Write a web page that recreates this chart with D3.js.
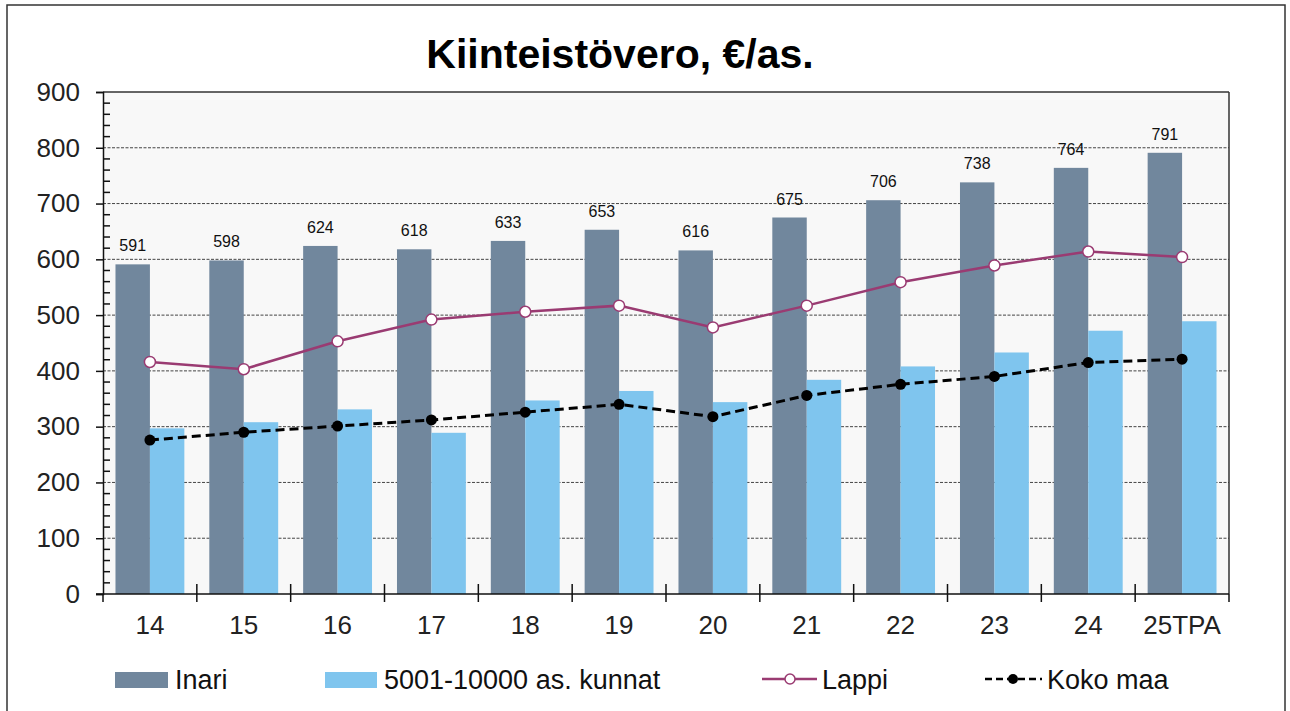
<!DOCTYPE html>
<html><head><meta charset="utf-8">
<script src="https://cdn.jsdelivr.net/npm/d3@7"></script>
<style>body{margin:0;background:#fff}svg{display:block;font-family:"Liberation Sans",Arial,sans-serif}</style>
</head><body>
<svg id="c" width="1290" height="711"></svg>
<script>
const categories = ["14","15","16","17","18","19","20","21","22","23","24","25TPA"];
const inari = [591,598,624,618,633,653,616,675,706,738,764,791];
const kunnat = [297,308,331,289,347,364,344,384,408,433,472,489];
const lappi = [416,403,453,492,506,517,478,517,559,589,614,604];
const kokoMaa = [276,290,301,312,326,340,318,356,376,390,415,421];
const yTicks = [0,100,200,300,400,500,600,700,800,900];
const seriesNames = ["Inari","5001-10000 as. kunnat","Lappi","Koko maa"];

const C_INARI = "#71879d", C_KUNNAT = "#7fc5ee", C_LAPPI = "#9a3b72", C_KOKO = "#000";
const svg = d3.select("#c");
const L = 103, R = 1229, T = 92, B = 594;

svg.append("rect").attr("x",7).attr("y",5).attr("width",1278).attr("height",730)
  .attr("fill","#fff").attr("stroke","#333").attr("stroke-width",1.5);

const x = d3.scaleBand().domain(categories).range([L,R]).padding(0);
const y = d3.scaleLinear().domain([0,900]).range([B,T]);

svg.append("rect").attr("x",L).attr("y",T).attr("width",R-L).attr("height",B-T).attr("fill","#f8f8f8");

// gridlines
svg.append("g").selectAll("line").data(yTicks.filter(d=>d>0&&d<900)).join("line")
  .attr("x1",L).attr("x2",R).attr("y1",d=>y(d)).attr("y2",d=>y(d))
  .attr("stroke","#444").attr("stroke-width",1).attr("stroke-dasharray","3,1.5");
svg.append("line").attr("x1",L).attr("x2",R).attr("y1",T).attr("y2",T).attr("stroke","#333").attr("stroke-width",1.5);
svg.append("line").attr("x1",R).attr("x2",R).attr("y1",T).attr("y2",B).attr("stroke","#333").attr("stroke-width",1.5);

const bw = x.bandwidth()*0.367;
const off = (x.bandwidth() - 2*bw)/2;
const g = svg.append("g");
g.selectAll(".bi").data(inari).join("rect")
  .attr("x",(d,i)=>x(categories[i])+off).attr("width",bw)
  .attr("y",d=>y(d)).attr("height",d=>B-y(d)).attr("fill",C_INARI);
g.selectAll(".bk").data(kunnat).join("rect")
  .attr("x",(d,i)=>x(categories[i])+off+bw).attr("width",bw)
  .attr("y",d=>y(d)).attr("height",d=>B-y(d)).attr("fill",C_KUNNAT);
g.selectAll(".lb").data(inari).join("text")
  .attr("x",(d,i)=>x(categories[i])+off+bw/2).attr("y",d=>y(d)-13)
  .attr("text-anchor","middle").attr("font-size",16).attr("fill","#111").text(d=>d);

const cx = i => x(categories[i]) + x.bandwidth()/2;
const lineGen = d3.line().x((d,i)=>cx(i)).y(d=>y(d));
svg.append("path").datum(lappi).attr("d",lineGen).attr("fill","none")
  .attr("stroke",C_LAPPI).attr("stroke-width",2.5);
svg.selectAll(".pl").data(lappi).join("circle")
  .attr("cx",(d,i)=>cx(i)).attr("cy",d=>y(d)).attr("r",5.5)
  .attr("fill","#fff").attr("stroke",C_LAPPI).attr("stroke-width",1.5);
svg.append("path").datum(kokoMaa).attr("d",lineGen).attr("fill","none")
  .attr("stroke",C_KOKO).attr("stroke-width",3).attr("stroke-dasharray","9,5");
svg.selectAll(".pk").data(kokoMaa).join("circle")
  .attr("cx",(d,i)=>cx(i)).attr("cy",d=>y(d)).attr("r",5.5).attr("fill",C_KOKO);

// y axis
const ya = svg.append("g").attr("transform",`translate(${L},0)`)
  .call(d3.axisLeft(y).tickValues(yTicks).tickSize(7).tickPadding(16).tickFormat(d3.format("d")));
ya.select(".domain").attr("stroke","#111").attr("stroke-width",1.5);
ya.selectAll(".tick line").attr("stroke","#111").attr("stroke-width",1.5);
ya.selectAll("text").attr("font-size",26).attr("fill","#222").attr("font-family","Liberation Sans, Arial, sans-serif");
const minor = d3.range(0,901,20).filter(d=>d%100!==0);
svg.append("g").selectAll("line").data(minor).join("line")
  .attr("x1",L).attr("x2",L+7).attr("y1",d=>y(d)).attr("y2",d=>y(d))
  .attr("stroke","#111").attr("stroke-width",1.5);

// x axis
svg.append("line").attr("x1",L-7).attr("x2",R).attr("y1",B).attr("y2",B).attr("stroke","#111").attr("stroke-width",1.5);
const bounds = categories.map(c=>x(c)).concat([R]);
svg.append("g").selectAll("line").data(bounds).join("line")
  .attr("x1",d=>d).attr("x2",d=>d).attr("y1",(d,i)=>(i===0||i===bounds.length-1)?B:B-10).attr("y2",B+8)
  .attr("stroke","#111").attr("stroke-width",1.5);
svg.append("g").selectAll("text").data(categories).join("text")
  .attr("x",(d,i)=>cx(i)).attr("y",634).attr("text-anchor","middle")
  .attr("font-size",26).attr("fill","#222").text(d=>d);

// title
svg.append("text").attr("x",620).attr("y",68).attr("text-anchor","middle")
  .attr("font-size",41).attr("font-weight","bold").attr("fill","#000").text("Kiinteistövero, €/as.");

// legend
const lg = svg.append("g");
lg.append("rect").attr("x",115).attr("y",672).attr("width",53).attr("height",16).attr("fill",C_INARI);
lg.append("text").attr("x",175).attr("y",689).attr("font-size",27).attr("fill","#111").text(seriesNames[0]);
lg.append("rect").attr("x",325).attr("y",672).attr("width",52).attr("height",16).attr("fill",C_KUNNAT);
lg.append("text").attr("x",384).attr("y",689).attr("font-size",27).attr("fill","#111").text(seriesNames[1]);
lg.append("line").attr("x1",762).attr("x2",817).attr("y1",679).attr("y2",679).attr("stroke",C_LAPPI).attr("stroke-width",2.5);
lg.append("circle").attr("cx",790).attr("cy",679).attr("r",5).attr("fill","#fff").attr("stroke",C_LAPPI).attr("stroke-width",1.5);
lg.append("text").attr("x",822).attr("y",689).attr("font-size",27).attr("fill","#111").text(seriesNames[2]);
lg.append("line").attr("x1",985).attr("x2",1042).attr("y1",679).attr("y2",679).attr("stroke",C_KOKO).attr("stroke-width",2.5).attr("stroke-dasharray","7,4");
lg.append("circle").attr("cx",1013).attr("cy",679).attr("r",5).attr("fill",C_KOKO);
lg.append("text").attr("x",1047).attr("y",689).attr("font-size",27).attr("fill","#111").text(seriesNames[3]);
</script>
</body></html>
